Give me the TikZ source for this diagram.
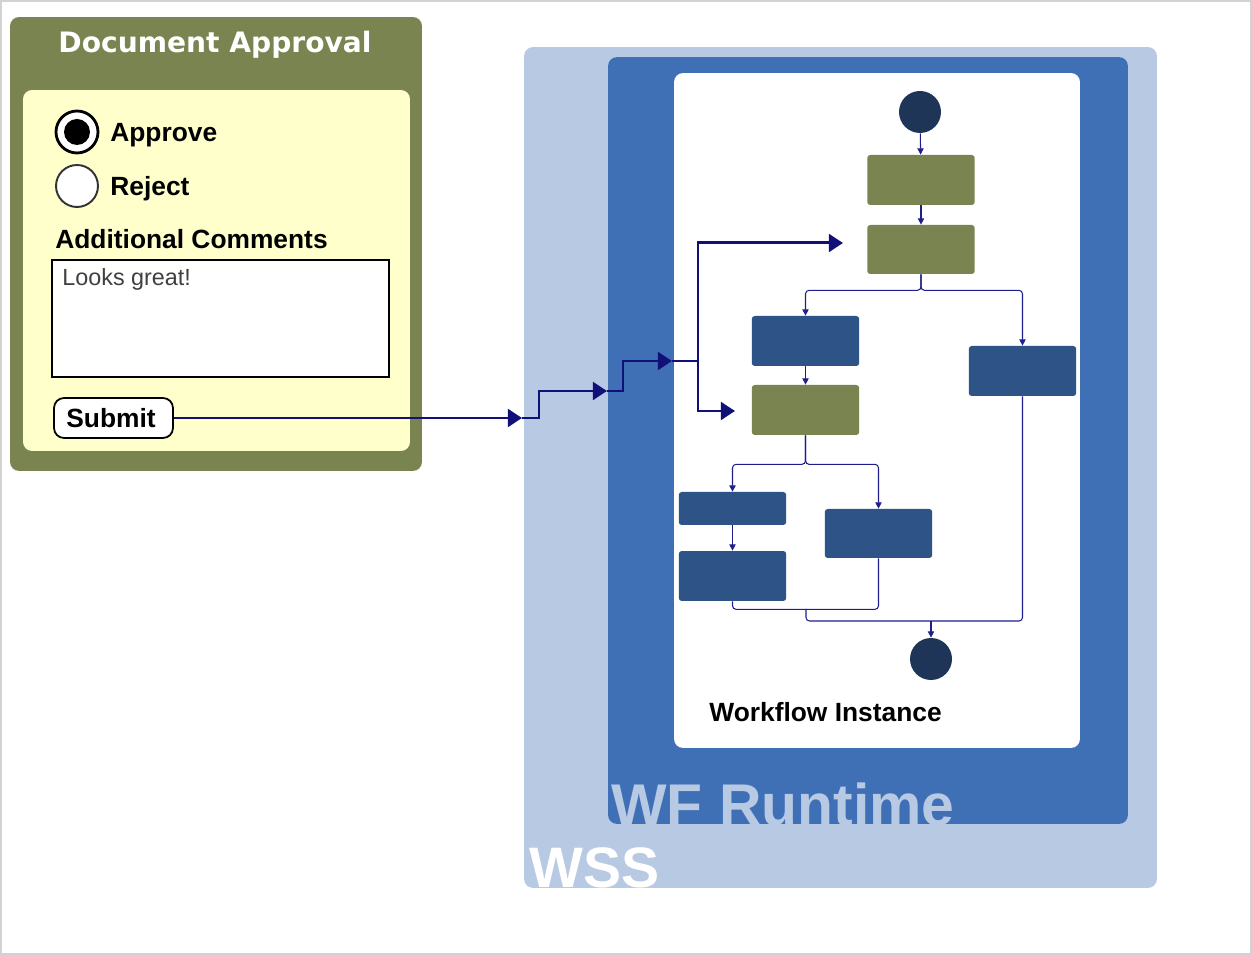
\documentclass[tikz,border=0pt]{standalone}
\usepackage{fontspec}
\setmainfont{Liberation Sans}
\newfontfamily\titlefont{DejaVu Sans}
\usetikzlibrary{arrows.meta,positioning}

\definecolor{formgreen}{RGB}{122,132,80}
\definecolor{formyellow}{RGB}{255,255,204}
\definecolor{wsscol}{RGB}{184,201,227}
\definecolor{wfcol}{RGB}{63,112,182}
\definecolor{actblue}{RGB}{46,83,134}
\definecolor{stnode}{RGB}{30,53,88}
\definecolor{wire}{RGB}{30,30,140}
\definecolor{bigwire}{RGB}{16,16,120}

\begin{document}
\begin{tikzpicture}[x=0.02cm,y=-0.02cm,
  panel/.style={rounded corners=0.18cm,inner sep=0,minimum width=#1},
  lbl/.style={anchor=base west,inner sep=0,font=\fontsize{15}{15}\selectfont\bfseries},
  act/.style={fill=#1,rounded corners=0.06cm,inner sep=0,minimum width=2.15cm,minimum height=1cm},
  stend/.style={circle,fill=stnode,inner sep=0,minimum size=0.84cm},
  radio/.style={circle,draw=black,fill=white,inner sep=0,minimum size=0.84cm},
  flow/.style={draw=wire,line width=0.6pt,rounded corners=2pt,-{Triangle[length=3.6pt,width=3.6pt]}},
  wire/.style={draw=wire,line width=0.6pt,rounded corners=2pt},
  bigflow/.style={draw=bigwire,line width=1.7pt,-{Triangle[length=8pt,width=10pt]}},
  bigwire/.style={draw=bigwire,line width=1.7pt}]
  \useasboundingbox (0,0) rectangle (1252,955);
  \draw[gray!35,line width=0.8pt] (1,1) rectangle (1251,954);

  % the form
  \node[panel=8.24cm,fill=formgreen,minimum height=9.08cm] (form) at (216,244) {};
  \node[panel=7.74cm,fill=formyellow,minimum height=7.22cm] (formbody) at (216.5,270.5) {};
  \node[anchor=base,inner sep=0,text=white,font=\titlefont\fontsize{16}{16}\selectfont\bfseries] (title) at (215,53) {Document Approval};
  \node[radio,line width=1.6pt] (yes) at (77,132) {};
  \node[circle,fill=black,inner sep=0,minimum size=0.52cm] (yesdot) at (yes) {};
  \node[radio,line width=1.1pt,draw=black!80] (no) at (77,186) {};
  \node[lbl] (yeslbl) at (110,142) {Approve};
  \node[lbl] (nolbl) at (110,196) {Reject};
  \node[lbl] (comlbl) at (55,249) {Additional Comments};
  \node[draw=black,line width=1.1pt,fill=white,inner sep=0,minimum width=6.74cm,minimum height=2.34cm] (combox) at (220.5,318.5) {};
  \node[anchor=base west,inner sep=0,text=black!75,font=\fontsize{13.3}{13.3}\selectfont] (comtext) at (62,286) {Looks great!};
  \node[draw=black,line width=1pt,fill=white,rounded corners=0.2cm,inner sep=0,minimum width=2.38cm,minimum height=0.8cm] (submit) at (113.5,418) {};
  \node[lbl] (sublbl) at (66,428) {Submit};

  % hosts
  \node[panel=12.66cm,fill=wsscol,minimum height=16.82cm] (wss) at (840.5,467.5) {};
  \node[panel=10.4cm,fill=wfcol,minimum height=15.34cm] (runtime) at (868,440.5) {};
  \node[panel=8.12cm,fill=white,minimum height=13.5cm] (inst) at (877,410.5) {};
  \node[anchor=base west,inner sep=0,text=wsscol,font=\fontsize{33.5}{33.5}\selectfont\bfseries] (rtlbl) at (611,826) {WF Runtime};
  \node[anchor=base west,inner sep=0,text=white,font=\fontsize{32.5}{32.5}\selectfont\bfseries] (wsslbl) at (529,888) {WSS};
  \node[lbl] (instlbl) at (709,722) {Workflow Instance};

  % workflow
  \node[stend] (start) at (920,112) {};
  \node[act=formgreen] (a1) at (921,180) {};
  \node[act=formgreen,minimum height=0.98cm] (a2) at (921,249.5) {};
  \node[act=actblue] (a3) at (805.5,341) {};
  \node[act=formgreen] (a4) at (805.5,410) {};
  \node[act=actblue] (a5) at (1022.5,371) {};
  \node[act=actblue,minimum height=0.66cm] (a6) at (732.5,508.5) {};
  \node[act=actblue] (a7) at (732.5,576) {};
  \node[act=actblue,minimum height=0.98cm] (a8) at (878.5,533.5) {};
  \node[stend] (stop) at (931,659) {};

  \draw[flow] (start) -- (a1);
  \draw[flow] (a1) -- (a2);
  \draw[flow] (a2.south) -- ++(0,16) -| (a3.north);
  \draw[flow] (a2.south) -- ++(0,16) -| (a5.north);
  \draw[flow] (a3) -- (a4);
  \draw[flow] (a4.south) -- ++(0,29) -| (a6.north);
  \draw[flow] (a4.south) -- ++(0,29) -| (a8.north);
  \draw[flow] (a6) -- (a7);
  \draw[wire] (a7.south) -- ++(0,8) -| (a8.south);
  \coordinate (join) at (806,609);
  \coordinate (merge) at (931,621);
  \draw[wire] (join) |- (merge -| a5.south) -- (a5.south);
  \draw[flow] (merge) -- (stop);

  % submit path
  \coordinate (s1) at (522,418);
  \coordinate (s2) at (607,391);
  \coordinate (s3) at (672,361);
  \coordinate (fork) at (698,361);
  \coordinate (t1) at (843,243);
  \coordinate (t2) at (735,411);
  \draw[bigflow] (submit) -- (s1);
  \draw[bigflow] (s1) -- ++(17,0) |- (s2);
  \draw[bigflow] (s2) -- ++(16,0) |- (s3);
  \draw[bigwire] (s3) -- (fork);
  \draw[bigflow] (fork) |- (t1);
  \draw[bigflow] (fork) |- (t2);
\end{tikzpicture}
\end{document}
